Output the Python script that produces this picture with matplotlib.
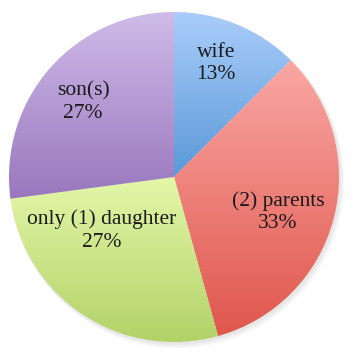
import numpy as np
import matplotlib
matplotlib.use("Agg")
import matplotlib.pyplot as plt
from matplotlib.colors import to_rgb
from matplotlib.patches import Circle

categories = ["wife", "(2) parents", "only (1) daughter", "son(s)"]
values = [12.5, 33.2, 27.2, 27.1]
pct_labels = ["13%", "33%", "27%", "27%"]

top_colors = ["#aacdfa", "#faa7a3", "#e3f7a8", "#cfbbe9"]
bottom_colors = ["#5a99d8", "#df574d", "#b2d268", "#9977bd"]
# label centres in data units (radius = 1)
label_pos = [(0.255, 0.69), (0.63, -0.215), (-0.44, -0.325), (-0.55, 0.455)]

W, H, DPI = 358, 353, 100
fig = plt.figure(figsize=(W / DPI, H / DPI), dpi=DPI)
ax = fig.add_axes([0, 0, 1, 1])
cx, cy, R = 174, 177, 165
ax.axis("off")

# soft shadow
for off, a in [(0.035, 0.05), (0.025, 0.07), (0.015, 0.09)]:
    ax.add_patch(Circle((off * 0.6, -off * 0.8), 1.0 + off * 0.3, color="#888888",
                        alpha=a, lw=0, zorder=0))

wedges, _ = ax.pie(values, startangle=90, counterclock=False, radius=1.0,
                   wedgeprops=dict(linewidth=0, facecolor="none"), frame=False)
ax.set_aspect("auto")

for w, tc, bc in zip(wedges, top_colors, bottom_colors):
    t1, t2 = np.deg2rad(w.theta1), np.deg2rad(w.theta2)
    th = np.linspace(t1, t2, 200)
    xs = np.concatenate([[0], np.cos(th)])
    ys = np.concatenate([[0], np.sin(th)])
    x0, x1, y0, y1 = xs.min(), xs.max(), ys.min(), ys.max()
    t = np.linspace(0, 1, 256)[:, None]
    top = np.array(to_rgb(tc)); bot = np.array(to_rgb(bc))
    grad = bot[None, :] * (1 - t) + top[None, :] * t
    img = np.repeat(grad[:, None, :], 2, axis=1)
    im = ax.imshow(img, extent=[x0, x1, y0, y1], origin="lower", aspect="auto",
                   interpolation="bilinear", zorder=1)
    im.set_clip_path(w)
    w.set_zorder(2)

ax.set_xlim((0 - cx) / R, (W - cx) / R)
ax.set_ylim((cy - H) / R, (cy - 0) / R)

for (x, y), cat, pct in zip(label_pos, categories, pct_labels):
    ax.text(x, y, cat + "\n" + pct, ha="center", va="center", fontsize=15.5,
            family="Liberation Serif", color="#1a1a1a", linespacing=1.22, zorder=5)

fig.savefig("out.png", dpi=DPI)
